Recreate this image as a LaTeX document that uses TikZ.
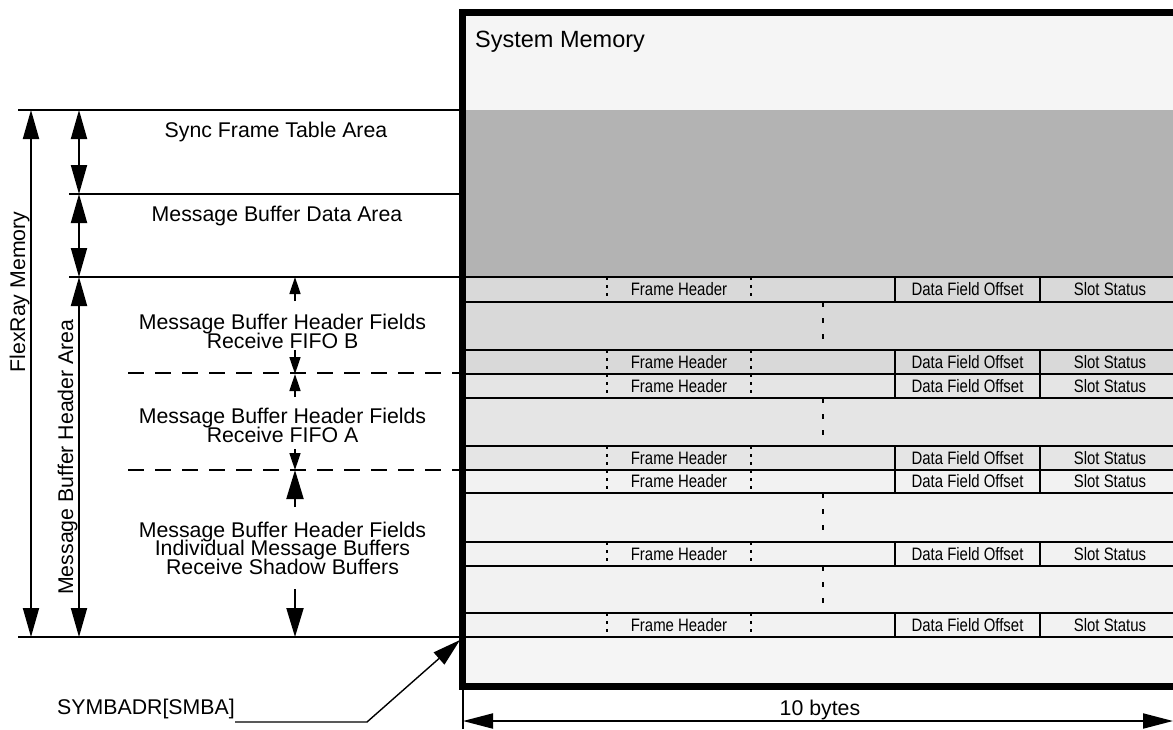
\documentclass[tikz,border=0pt]{standalone}
\usepackage{fontspec}
\setmainfont{Liberation Sans}
\newfontfamily\narrowfont[FakeStretch=0.83]{Liberation Sans}
\usetikzlibrary{arrows.meta}
\definecolor{memlight}{HTML}{F5F5F5}
\definecolor{darkarea}{HTML}{B3B3B3}
\definecolor{fifob}{HTML}{D9D9D9}
\definecolor{fifoa}{HTML}{E5E5E5}
\definecolor{indiv}{HTML}{F2F2F2}
\begin{document}
\begin{tikzpicture}[x=1pt,y=-1pt,
  lbl/.style={font=\fontsize{21.3}{20}\selectfont, inner sep=0pt, anchor=base},
  cell/.style={font=\narrowfont\fontsize{18}{18}\selectfont, inner sep=0pt},
  rowline/.style={line width=1.5pt},
  guide/.style={line width=1.5pt},
  guidedash/.style={line width=1.5pt, dash pattern=on 16pt off 11pt},
  fhdot/.style={line width=1.3pt, dash pattern=on 3pt off 5pt},
  gapdot/.style={line width=2.7pt, dash pattern=on 5pt off 11pt},
  bigdim/.style={line width=2pt, {Triangle[length=29pt,width=16pt]}-{Triangle[length=29pt,width=16pt]}},
  bighead/.style={line width=2pt, -{Triangle[length=29pt,width=17pt]}},
  smallhead/.style={line width=1.6pt, -{Triangle[length=17pt,width=11pt]}},
  border/.style={line width=7pt, line join=miter}
]
\useasboundingbox (0,0) rectangle (1173,729);

% memory fills
\fill[memlight] (462,13) rectangle (1185,110);
\fill[darkarea] (462,110) rectangle (1185,277);
\fill[fifob] (462,277) rectangle (1185,374);
\fill[fifoa] (462,374) rectangle (1185,470);
\fill[indiv] (462,470) rectangle (1185,637);
\fill[memlight] (462,637) rectangle (1185,686);

% row lines
\foreach \y in {277,302,350,374,398,446,470,493,542,566,613,637}
  \draw[rowline] (462,\y) -- (1185,\y);

% header rows
\foreach \t/\b [count=\i] in {277/302,350/374,374/398,446/470,470/493,542/566,613/637}{
  \draw[fhdot] (607,\t) -- (607,\b);
  \draw[fhdot] (751,\t) -- (751,\b);
  \draw[rowline] (895,\t) -- (895,\b);
  \draw[rowline] (1040,\t) -- (1040,\b);
  \node[cell] (fh\i) at (679,{(\t+\b)/2}) {Frame Header};
  \node[cell] (dfo\i) at (967.5,{(\t+\b)/2}) {Data Field Offset};
  \node[cell] (ss\i) at (1110,{(\t+\b)/2}) {Slot Status};
}
% gap rows
\foreach \t/\b in {302/350,398/446,493/542,566/613}
  \draw[gapdot] (823,\t) -- (823,\b);

% thick border
\draw[border] (1190,12.5) -- (462.5,12.5) -- (462.5,686) -- (1190,686);
\node[font=\fontsize{23.5}{24}\selectfont, inner sep=0pt, anchor=base west] (sysmem) at (475,47) {System Memory};

% left guide lines
\coordinate (a0) at (18,110);  \coordinate (a0e) at (459,110);
\coordinate (a1) at (69,194);  \coordinate (a1e) at (459,194);
\coordinate (a2) at (69,277);  \coordinate (a2e) at (459,277);
\coordinate (a3) at (18,637);  \coordinate (a3e) at (459,637);
\coordinate (d1) at (128,373); \coordinate (d1e) at (459,373);
\coordinate (d2) at (128,470); \coordinate (d2e) at (459,470);
\draw[guide] (a0) -- (a0e);
\draw[guide] (a1) -- (a1e);
\draw[guide] (a2) -- (a2e);
\draw[guide] (a3) -- (a3e);
\draw[guidedash] (d1) -- (d1e);
\draw[guidedash] (d2) -- (d2e);

% dimension arrows
\coordinate (fm1) at (31,110); \coordinate (fm2) at (31,637);
\draw[bigdim] (fm1) -- (fm2);
\coordinate (s1) at (79,110); \coordinate (s2) at (79,194);
\coordinate (s3) at (79,277); \coordinate (s4) at (79,637);
\draw[bigdim] (s1) -- (s2);
\draw[bigdim] (s2) -- (s3);
\draw[bigdim] (s3) -- (s4);
\node[lbl, rotate=90] (flexray) at (25,292) {FlexRay Memory};
\node[lbl, rotate=90] (mbha) at (73,457) {Message Buffer Header Area};

% middle labels
\node[lbl] (sync) at (276,137) {Sync Frame Table Area};
\node[lbl] (mbda) at (277,221) {Message Buffer Data Area};
\node[lbl] (fb1) at (282.5,329) {Message Buffer Header Fields};
\node[lbl] (fb2) at (282.5,348) {Receive FIFO B};
\node[lbl] (fa1) at (282.5,423) {Message Buffer Header Fields};
\node[lbl] (fa2) at (282.5,442) {Receive FIFO A};
\node[lbl] (mi1) at (282.5,537) {Message Buffer Header Fields};
\node[lbl] (mi2) at (282.5,555.5) {Individual Message Buffers};
\node[lbl] (mi3) at (282.5,574) {Receive Shadow Buffers};

% middle arrows
\coordinate (m1s) at (295,301); \coordinate (m1t) at (295,277);
\coordinate (m2s) at (295,350); \coordinate (m2t) at (295,374);
\coordinate (m3s) at (295,397); \coordinate (m3t) at (295,374);
\coordinate (m4s) at (295,449); \coordinate (m4t) at (295,470);
\coordinate (m5s) at (295,507); \coordinate (m5t) at (295,470);
\coordinate (m6s) at (295,589); \coordinate (m6t) at (295,637);
\draw[smallhead] (m1s) -- (m1t);
\draw[smallhead] (m2s) -- (m2t);
\draw[smallhead] (m3s) -- (m3t);
\draw[smallhead] (m4s) -- (m4t);
\draw[bighead] (m5s) -- (m5t);
\draw[bighead] (m6s) -- (m6t);

% SYMBADR
\node[lbl, anchor=base west] (smba) at (57,714) {SYMBADR[SMBA]};
\coordinate (l1) at (235,722);
\coordinate (l2) at (367,722);
\coordinate (ltip) at (460,640);
\draw[line width=1.4pt, -{Triangle[length=28pt,width=16pt]}] (l1) -- (l2) -- (ltip);

% 10 bytes
\coordinate (b0) at (463,689); \coordinate (b1) at (463,729);
\coordinate (w1) at (463,721); \coordinate (w2) at (1173,721);
\draw[line width=1.4pt] (b0) -- (b1);
\draw[line width=2pt, {Triangle[length=30pt,width=15pt]}-{Triangle[length=30pt,width=15pt]}] (w1) -- (w2);
\node[lbl] (tenb) at (820,715) {10 bytes};
\end{tikzpicture}
\end{document}
